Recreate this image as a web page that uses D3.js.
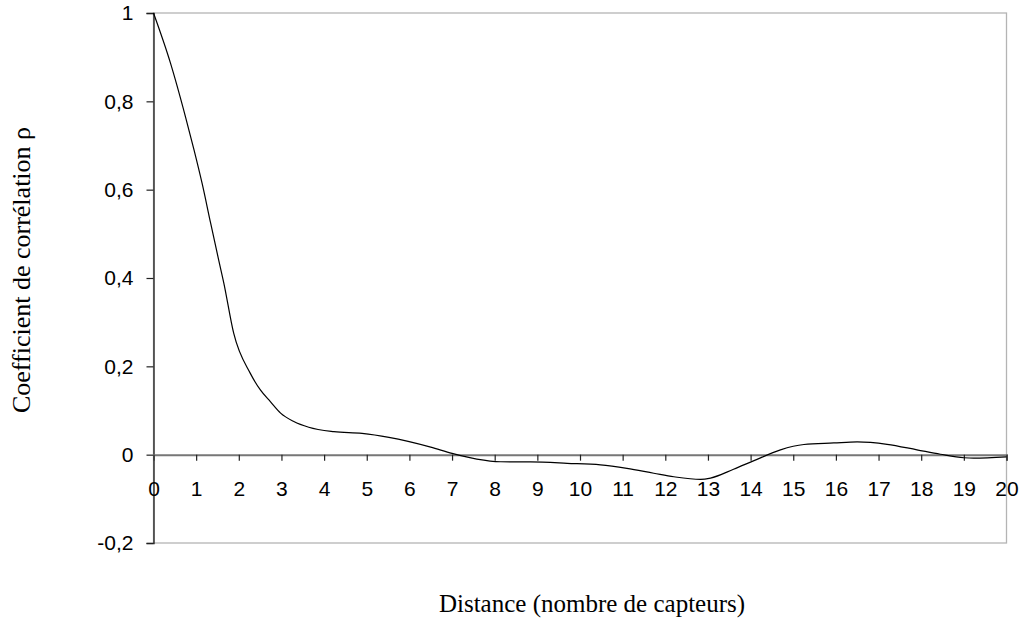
<!DOCTYPE html>
<html><head><meta charset="utf-8">
<script src="https://cdn.jsdelivr.net/npm/d3@7"></script>
<style>body{margin:0;background:#fff}svg{display:block}</style>
</head><body>
<svg id="c" width="1023" height="626"></svg>
<script>
const distances = [0,0.4,0.75,0.95,1.14,1.34,1.53,1.65,1.88,2.27,2.51,2.74,2.98,3.29,3.64,4.23,4.89,5.52,6.5,7.0,7.58,8.14,8.84,9.7,10.48,11.1,11.73,12.2,12.83,13.06,13.6,14.08,14.7,15.25,15.95,16.5,17.2,17.9,18.45,19.0,19.23,20];
const rho = [1,0.886,0.765,0.69,0.614,0.524,0.44,0.388,0.275,0.184,0.146,0.12,0.094,0.075,0.062,0.052,0.048,0.039,0.017,0.003,-0.010,-0.016,-0.0165,-0.0195,-0.023,-0.031,-0.042,-0.05,-0.056,-0.053,-0.033,-0.0135,0.011,0.023,0.0265,0.029,0.0235,0.011,0.001,-0.007,-0.008,-0.005];
const xTicks = d3.range(0,21);
const yTicks = [-0.2,0,0.2,0.4,0.6,0.8,1];
const xTitle = "Distance (nombre de capteurs)";
const yTitle = "Coefficient de corrélation ρ";

const svg = d3.select("#c");
const L=153.5, R=1006.5, T=13, B=543;
const x = d3.scaleLinear().domain([0,20]).range([L,R]);
const y = d3.scaleLinear().domain([-0.2,1]).range([B,T]);
const fmt = d => String(d).replace(".",",");

// plot frame (light gray)
svg.append("rect").attr("x",L).attr("y",T).attr("width",R-L).attr("height",B-T)
  .attr("fill","none").attr("stroke","#b4b4b4").attr("stroke-width",1.3);

// y axis
const ya = svg.append("g").attr("transform",`translate(${L},0)`)
  .call(d3.axisLeft(y).tickValues(yTicks).tickFormat(fmt).tickSize(7).tickPadding(13));
ya.select(".domain").attr("stroke","#333").attr("stroke-width",1.5);
ya.selectAll(".tick line").attr("stroke","#222").attr("stroke-width",1.2);
ya.selectAll("text").attr("font-family","Liberation Sans, Arial, sans-serif").attr("font-size",21).attr("fill","#000");

// x axis at y=0
const xa = svg.append("g").attr("transform",`translate(0,${y(0)})`)
  .call(d3.axisBottom(x).tickValues(xTicks).tickFormat(d3.format("d")).tickSize(6).tickPadding(20));
xa.select(".domain").attr("stroke","#777").attr("stroke-width",2);
xa.selectAll(".tick line").attr("stroke","#222").attr("stroke-width",1.2);
xa.selectAll("text").attr("font-family","Liberation Sans, Arial, sans-serif").attr("font-size",21).attr("fill","#000");

// curve
const pts = distances.map((d,i)=>[d,rho[i]]);
svg.append("path").datum(pts)
  .attr("d", d3.line().x(d=>x(d[0])).y(d=>y(d[1])).curve(d3.curveMonotoneX))
  .attr("fill","none").attr("stroke","#000").attr("stroke-width",1.2);

// titles
svg.append("text").attr("x",592).attr("y",612).attr("text-anchor","middle")
  .attr("font-family","Liberation Serif, Times New Roman, serif").attr("font-size",25).text(xTitle);
svg.append("text").attr("transform","translate(30,270) rotate(-90)").attr("text-anchor","middle")
  .attr("font-family","Liberation Serif, Times New Roman, serif").attr("font-size",26).text(yTitle);
</script>
</body></html>
